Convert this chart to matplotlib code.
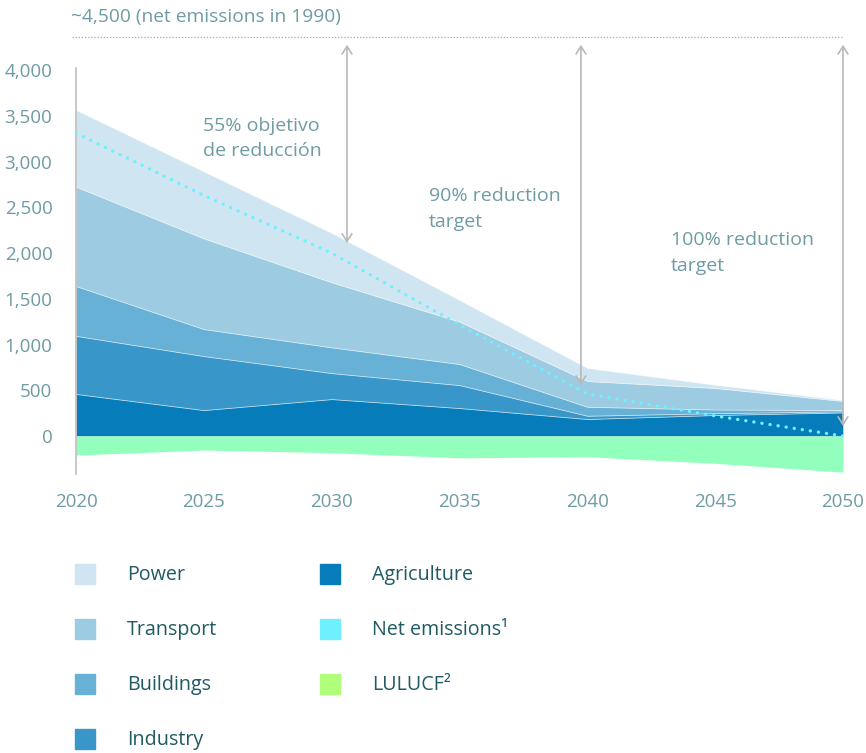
import numpy as np
import matplotlib.pyplot as plt
from matplotlib.patches import Rectangle

plt.rcParams['font.family'] = ['Open Sans', 'DejaVu Sans']

# data (MtCO2e)
years = np.array([2020, 2025, 2030, 2035, 2040, 2045, 2050])
agriculture = np.array([460, 284, 404, 306, 186, 230, 258])
industry = np.array([635, 590, 284, 251, 36, 20, 12])
buildings = np.array([544, 295, 281, 230, 98, 40, 14])
transport = np.array([1086, 991, 711, 463, 281, 235, 99])
power = np.array([838, 731, 539, 236, 142, 35, 10])
lulucf = np.array([-208, -153, -182, -238, -226, -298, -395])
net_emissions = np.array([3310, 2630, 2000, 1215, 460, 220, 0])

ref_1990 = 4361  # drawn position of the ~4,500 reference line
targets = [(2030.6, 2110, "55% objetivo\nde reducción", 2024.97, 3490),
           (2039.75, 557, "90% reduction\ntarget", 2033.8, 2720),
           (2050.0, 109, "100% reduction\ntarget", 2043.27, 2240)]

names = ["Power", "Transport", "Buildings", "Industry",
         "Agriculture", "Net emissions\u00b9", "LULUCF\u00b2"]
colors = ["#cfe5f1", "#9ccbe2", "#67b0d6", "#3897c8",
          "#077cba", "#6ef0ff", "#b0ff7a"]
lulucf_fill = "#92ffbc"
tick_col = "#6e9ba4"
legend_col = "#1f5a65"
arrow_col = "#b8b8b8"

fig = plt.figure(figsize=(8.66, 7.53), dpi=100)
ax = fig.add_axes([76 / 866, 1 - 474 / 753, 767 / 866, 437 / 753])

ax.stackplot(years, agriculture, industry, buildings, transport, power,
             colors=colors[4::-1], edgecolor=(1, 1, 1, 0.45), linewidth=0.6)
ax.fill_between(years, 0, lulucf, color=lulucf_fill, linewidth=0)
ax.plot(years, net_emissions, color=colors[5], lw=2.4,
        linestyle=(0, (0.05, 2.4)), dash_capstyle='round', zorder=5)

# 1990 reference line and the reduction arrows
ax.plot([2019.85, 2050], [ref_1990, ref_1990], color="#aaaaaa", lw=0.9,
        linestyle=(0, (1, 1.5)), clip_on=False)
ax.text(2019.8, ref_1990 + 215, "~4,500 (net emissions in 1990)",
        color=tick_col, fontsize=13.8, va='center', ha='left')
for xa, yb, label, xt, yt in targets:
    ax.annotate("", xy=(xa, yb), xytext=(xa, ref_1990 - 85),
                arrowprops=dict(arrowstyle='<->,head_length=0.55,head_width=0.35',
                                color=arrow_col, lw=1.2, shrinkA=0, shrinkB=0),
                annotation_clip=False)
    ax.text(xt, yt, label, color=tick_col, fontsize=14, ha='left', va='top',
            linespacing=1.55)

ax.set_xlim(2020, 2050)
ax.set_ylim(-415, ref_1990)
ax.set_xticks(years)
ax.set_yticks(np.arange(0, 4001, 500))
ax.set_yticklabels([f"{v:,}" for v in range(0, 4001, 500)])
ax.tick_params(length=0, colors=tick_col, labelsize=13.5)
ax.tick_params(axis='x', pad=14)
ax.tick_params(axis='y', pad=17)
for s in ['top', 'right', 'bottom']:
    ax.spines[s].set_visible(False)
ax.spines['left'].set_color("#bdbdbd")
ax.spines['left'].set_linewidth(1.2)
ax.spines['left'].set_bounds(-415, 4022)

# legend, two columns
for i, (name, col) in enumerate(zip(names, colors)):
    c, r = (0, i) if i < 4 else (1, i - 4)
    x0 = 75 + c * 245
    yc = 574 + r * 55
    fig.patches.append(Rectangle((x0 / 866, 1 - (yc + 10) / 753), 20 / 866, 20 / 753,
                                 transform=fig.transFigure, color=col))
    fig.text((x0 + 52) / 866, 1 - (yc + 1) / 753, name, color=legend_col,
             fontsize=14.2, va='center', ha='left')

fig.savefig("out.png", dpi=100)
